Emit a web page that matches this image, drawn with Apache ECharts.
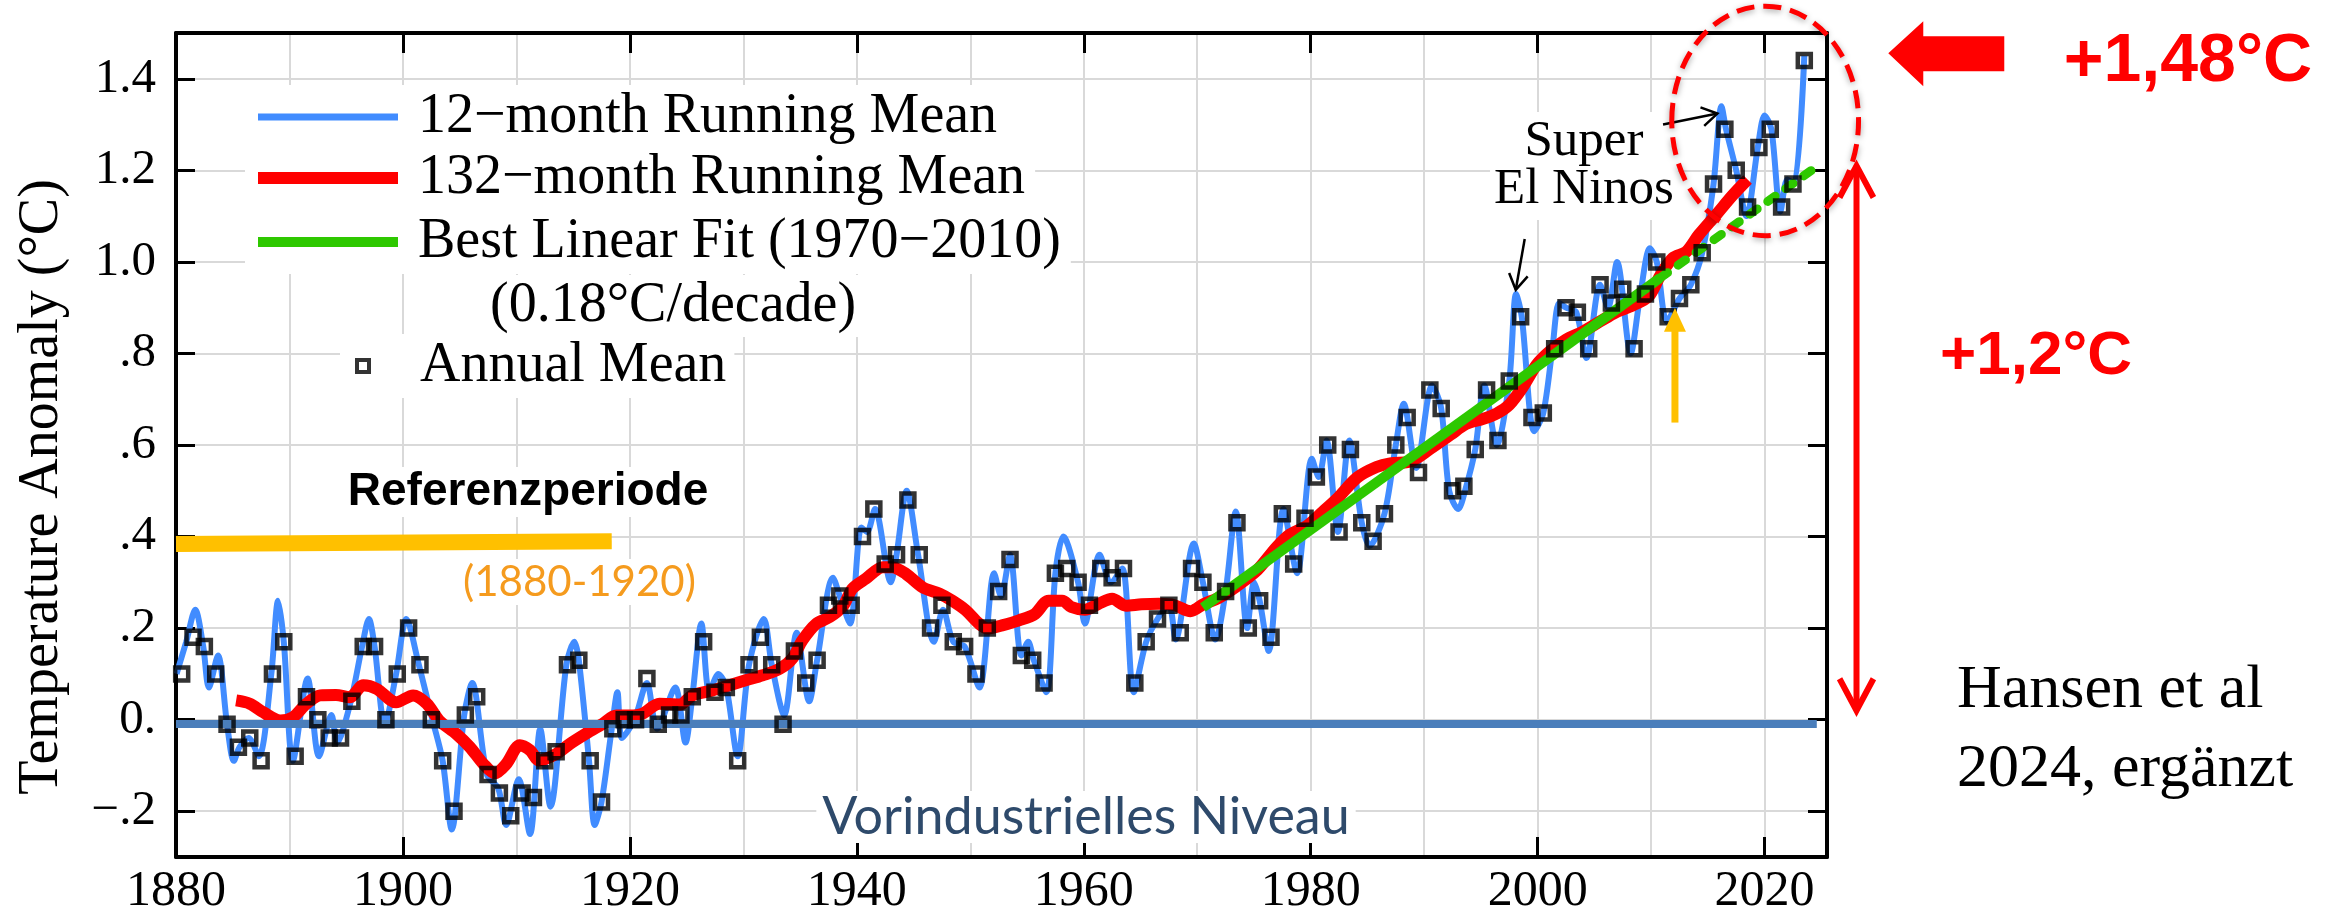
<!DOCTYPE html>
<html>
<head>
<meta charset="utf-8">
<script src="https://cdn.jsdelivr.net/npm/echarts@6/dist/echarts.min.js"></script>
<style>
html, body { margin: 0; padding: 0; background: #fff; }
#chart { width: 2339px; height: 917px; }
</style>
</head>
<body>
<div id="chart"></div>
<script>
// GISS global temperature anomaly (°C, relative to 1880-1920)

const firstYear = 1880;

// Annual means, 1880 ... 2023 (plotted at mid-year)
const annualMean = [
  0.10, 0.18, 0.16, 0.10, -0.01, -0.06, -0.04, -0.09, 0.10, 0.17,
  -0.08, 0.05, 0.00, -0.04, -0.04, 0.04, 0.16, 0.16, 0.00, 0.10,
  0.20, 0.12, 0.00, -0.09, -0.20, 0.01, 0.05, -0.12, -0.16, -0.21,
  -0.16, -0.17, -0.09, -0.07, 0.12, 0.13, -0.09, -0.18, -0.02, 0.00,
  0.00, 0.09, -0.01, 0.01, 0.01, 0.05, 0.17, 0.06, 0.07, -0.09,
  0.12, 0.18, 0.12, -0.01, 0.15, 0.08, 0.13, 0.25, 0.27, 0.25,
  0.40, 0.46, 0.34, 0.36, 0.48, 0.36, 0.20, 0.25, 0.17, 0.16,
  0.10, 0.20, 0.28, 0.35, 0.14, 0.13, 0.08, 0.32, 0.33, 0.30,
  0.25, 0.33, 0.31, 0.33, 0.08, 0.17, 0.22, 0.25, 0.19, 0.33,
  0.30, 0.19, 0.28, 0.43, 0.20, 0.26, 0.18, 0.45, 0.34, 0.44,
  0.53, 0.60, 0.41, 0.59, 0.43, 0.39, 0.45, 0.60, 0.66, 0.54,
  0.72, 0.68, 0.50, 0.51, 0.59, 0.72, 0.61, 0.74, 0.88, 0.66,
  0.67, 0.81, 0.90, 0.89, 0.81, 0.95, 0.91, 0.94, 0.81, 0.93,
  1.00, 0.88, 0.92, 0.95, 1.02, 1.17, 1.29, 1.20, 1.12, 1.25,
  1.29, 1.12, 1.17, 1.44
];

// 12-month running mean: [year, anomaly]
const runningMean12 = [
  [1880.05,0.10],[1880.9,0.17],[1881.7,0.24],[1882.4,0.16],[1882.9,0.07],[1883.7,0.14],[1884.5,-0.01],
  [1885.1,-0.09],[1885.6,-0.06],[1886.4,-0.04],[1887.3,-0.08],[1888.4,0.10],[1889.0,0.26],[1889.5,0.17],
  [1890.3,-0.09],[1891.6,0.09],[1892.6,-0.08],[1893.7,0.01],[1894.2,-0.05],[1895.4,0.04],[1896.4,0.16],
  [1897.0,0.22],[1897.5,0.16],[1898.4,-0.01],[1899.4,0.10],[1900.3,0.22],[1901.4,0.12],[1902.6,0.00],
  [1903.5,-0.09],[1904.3,-0.24],[1905.4,0.01],[1906.1,0.08],[1907.4,-0.12],[1908.4,-0.15],[1909.1,-0.23],
  [1910.2,-0.13],[1911.2,-0.25],[1912.1,-0.02],[1913.0,-0.19],[1914.4,0.12],[1915.1,0.17],[1915.5,0.13],
  [1916.4,-0.09],[1916.9,-0.23],[1917.5,-0.18],[1918.4,-0.02],[1918.9,0.06],[1919.3,-0.04],[1920.4,0.00],
  [1921.5,0.08],[1922.4,-0.02],[1924.0,0.07],[1924.9,-0.05],[1925.5,0.05],[1926.3,0.21],[1927.0,0.06],
  [1927.8,0.10],[1928.5,0.07],[1929.5,-0.08],[1930.5,0.12],[1931.8,0.22],[1932.5,0.12],[1933.6,0.01],
  [1934.7,0.19],[1935.8,0.04],[1936.5,0.13],[1937.9,0.31],[1938.5,0.27],[1939.4,0.21],[1940.4,0.42],
  [1940.9,0.41],[1941.6,0.46],[1943.0,0.30],[1943.5,0.36],[1944.4,0.50],[1945.4,0.36],[1946.8,0.17],
  [1947.6,0.24],[1948.5,0.17],[1949.5,0.16],[1950.8,0.07],[1952.1,0.32],[1952.7,0.27],[1953.5,0.36],
  [1954.5,0.14],[1955.1,0.17],[1955.6,0.13],[1956.7,0.06],[1957.5,0.32],[1958.2,0.40],[1959.5,0.30],
  [1960.1,0.21],[1961.4,0.36],[1962.4,0.30],[1963.4,0.33],[1964.4,0.06],[1965.5,0.17],[1966.5,0.22],
  [1967.5,0.25],[1968.1,0.175],[1969.7,0.385],[1970.5,0.30],[1971.6,0.175],[1972.5,0.28],[1973.4,0.455],
  [1974.4,0.20],[1975.0,0.30],[1975.5,0.26],[1976.3,0.15],[1977.6,0.46],[1978.8,0.32],[1980.1,0.57],
  [1980.7,0.53],[1981.4,0.61],[1982.4,0.41],[1983.4,0.61],[1984.5,0.43],[1985.2,0.38],[1986.5,0.45],
  [1987.5,0.60],[1988.2,0.69],[1989.3,0.55],[1990.7,0.73],[1991.5,0.68],[1992.2,0.50],[1993.0,0.46],
  [1993.6,0.50],[1994.5,0.59],[1995.3,0.73],[1996.4,0.60],[1997.5,0.74],[1998.1,0.93],[1998.6,0.88],
  [1999.7,0.63],[2000.5,0.67],[2001.3,0.81],[2001.9,0.91],[2002.5,0.90],[2003.4,0.89],[2004.3,0.79],
  [2005.5,0.95],[2006.2,0.90],[2007.0,1.00],[2008.2,0.80],[2009.0,0.92],[2009.9,1.03],[2010.5,1.00],
  [2011.4,0.87],[2012.5,0.92],[2013.5,0.95],[2014.5,1.02],[2015.5,1.17],[2016.2,1.34],[2016.6,1.29],
  [2017.5,1.20],[2018.4,1.10],[2019.4,1.25],[2020.0,1.32],[2020.6,1.29],[2021.4,1.11],[2022.0,1.18],
  [2022.6,1.17],[2023.5,1.45]
];

// 132-month running mean: [year, anomaly]
const runningMean132 = [
  [1885.3,0.042],[1886.5,0.035],[1887.7,0.016],[1889.2,-0.002],[1890.3,0.005],[1891.5,0.035],[1892.7,0.053],
  [1894.1,0.054],[1895.3,0.049],[1896.5,0.075],[1897.7,0.067],[1899.4,0.038],[1900.9,0.053],[1902.1,0.035],
  [1903.2,-0.002],[1904.7,-0.031],[1905.9,-0.06],[1907.1,-0.097],[1908.1,-0.117],[1909.1,-0.097],[1910.3,-0.056],
  [1911.2,-0.067],[1912.0,-0.089],[1913.5,-0.075],[1914.7,-0.053],[1916.1,-0.031],[1917.6,-0.009],[1918.8,0.009],
  [1920.0,0.009],[1921.1,0.013],[1922.6,0.035],[1924.4,0.033],[1925.5,0.053],[1927.3,0.064],[1928.5,0.073],
  [1930.2,0.086],[1931.7,0.097],[1933.2,0.111],[1934.3,0.133],[1935.2,0.173],[1936.4,0.209],[1937.6,0.224],
  [1938.8,0.249],[1939.6,0.286],[1940.8,0.308],[1942.3,0.333],[1943.1,0.333],[1944.3,0.319],[1945.8,0.289],
  [1947.3,0.275],[1948.4,0.26],[1949.6,0.239],[1950.8,0.209],[1951.6,0.199],[1952.8,0.206],[1954.3,0.217],
  [1955.7,0.231],[1956.9,0.26],[1958.1,0.26],[1958.9,0.246],[1960.1,0.24],[1961.3,0.253],[1962.5,0.264],
  [1963.7,0.249],[1965.1,0.252],[1966.6,0.253],[1968.0,0.25],[1969.4,0.237],[1970.6,0.253],[1971.8,0.265],
  [1973.5,0.292],[1975.3,0.327],[1977.0,0.377],[1978.2,0.405],[1979.7,0.424],[1981.1,0.455],[1982.3,0.482],
  [1984.1,0.529],[1985.8,0.552],[1987.0,0.56],[1988.8,0.564],[1990.5,0.591],[1992.3,0.622],[1993.7,0.646],
  [1995.2,0.657],[1996.4,0.669],[1997.5,0.688],[1998.7,0.727],[1999.9,0.775],[2001.1,0.805],[2002.5,0.83],
  [2004.0,0.848],[2005.5,0.87],[2006.9,0.89],[2008.4,0.905],[2009.8,0.925],[2010.8,0.97],[2011.9,1.008],
  [2013.1,1.022],[2014.2,1.059],[2015.7,1.102],[2017.2,1.146],[2018.5,1.18]
];

// Linear fit 1970-2010 (0.18°C/decade) and its dotted continuation
const linearFit = [[1970.5, 0.245], [2010.8, 0.965]];
const linearFitExtension = [[2010.8, 0.965], [2024.7, 1.21]];

// Reference lines
const preindustrialLevel = [[1880, -0.008], [2024.6, -0.008]];
const referencePeriodBar = [[1880, 0.384], [1918.4, 0.39]];

// Axis ticks
const xTickYears = [1880, 1900, 1920, 1940, 1960, 1980, 2000, 2020];
const yTickValues = [-0.2, 0, 0.2, 0.4, 0.6, 0.8, 1.0, 1.2, 1.4];
const yTickLabels = ['\u2212.2', '0.', '.2', '.4', '.6', '.8', '1.0', '1.2', '1.4'];

const SERIF = '"Liberation Serif", "Times New Roman", serif';
const SANS = '"Liberation Sans", Arial, sans-serif';
const SOFT = 'Lato, "Open Sans", sans-serif';

const BLUE = '#418cff';
const RED = '#ff0000';
const GREEN = '#2ec800';
const GRID_GRAY = '#d9d9d9';

const X_MIN = 1880, X_MAX = 2025.5, Y_MIN = -0.3, Y_MAX = 1.5;

const annualPoints = annualMean.map((v, i) => [firstYear + i + 0.5, v]);

const yLabel = v => {
  const i = yTickValues.findIndex(t => Math.abs(t - v) < 1e-6);
  return i < 0 ? '' : yTickLabels[i];
};

const frameLine = { onZero: false, lineStyle: { color: '#000', width: 4 } };
const legendText = { fontFamily: SERIF, fontSize: 56, color: '#000', lineHeight: 60, padding: [0, 0, 0, 15] };

const chart = echarts.init(document.getElementById('chart'));

const option = {
  animation: false,
  backgroundColor: '#fff',
  grid: { left: 176, right: 512, top: 33, bottom: 57 },
  xAxis: [
    {
      type: 'value', min: X_MIN, max: X_MAX, interval: 20, position: 'bottom',
      axisLine: frameLine,
      axisTick: { inside: true, length: 20, lineStyle: { color: '#000', width: 3 } },
      axisLabel: {
        margin: 10, fontFamily: SERIF, fontSize: 50, color: '#000',
        formatter: v => xTickYears.includes(v) ? String(v) : ''
      },
      splitLine: { show: false }
    },
    {
      type: 'value', min: X_MIN, max: X_MAX, interval: 20, position: 'top',
      axisLine: frameLine,
      axisTick: { inside: true, length: 20, lineStyle: { color: '#000', width: 3 } },
      axisLabel: { show: false },
      splitLine: { show: false }
    },
    {
      type: 'value', min: X_MIN, max: X_MAX, interval: 10, position: 'bottom',
      axisLine: { show: false, onZero: false },
      axisTick: { show: false },
      axisLabel: { show: false },
      splitLine: { show: true, lineStyle: { color: GRID_GRAY, width: 2 } }
    }
  ],
  yAxis: [
    {
      type: 'value', min: Y_MIN, max: Y_MAX, position: 'left',
      axisLine: frameLine,
      axisTick: { inside: true, length: 19, customValues: yTickValues, lineStyle: { color: '#000', width: 3 } },
      axisLabel: {
        customValues: yTickValues, formatter: yLabel,
        fontFamily: SERIF, fontSize: 49, color: '#000', margin: 20
      },
      splitLine: { show: true, lineStyle: { color: GRID_GRAY, width: 2 } },
      name: 'Temperature Anomaly (°C)',
      nameLocation: 'middle', nameGap: 106,
      nameTextStyle: { fontFamily: SERIF, fontSize: 56, color: '#000', padding: [0, 84, 0, 0] }
    },
    {
      type: 'value', min: Y_MIN, max: Y_MAX, position: 'right',
      axisLine: frameLine,
      axisTick: { inside: true, length: 19, customValues: yTickValues, lineStyle: { color: '#000', width: 3 } },
      axisLabel: { show: false },
      splitLine: { show: false }
    }
  ],
  legend: [
    {
      data: ['12\u2212month Running Mean'], left: 245, top: 85, padding: [2, 10, 2, 13],
      backgroundColor: '#fff', icon: 'rect', itemWidth: 140, itemHeight: 7,
      itemStyle: { borderWidth: 0 }, selectedMode: false, textStyle: legendText
    },
    {
      data: ['132\u2212month Running Mean'], left: 245, top: 146, padding: [2, 10, 2, 13],
      backgroundColor: '#fff', icon: 'rect', itemWidth: 140, itemHeight: 12,
      itemStyle: { borderWidth: 0 }, selectedMode: false, textStyle: legendText
    },
    {
      data: ['Best Linear Fit (1970\u22122010)'], left: 245, top: 210, padding: [2, 10, 2, 13],
      backgroundColor: '#fff', icon: 'rect', itemWidth: 140, itemHeight: 10,
      itemStyle: { borderWidth: 0 }, selectedMode: false, textStyle: legendText
    },
    {
      data: ['Annual Mean'], left: 340, top: 334, padding: [2, 8, 2, 15],
      backgroundColor: '#fff', icon: 'rect', itemWidth: 12, itemHeight: 12,
      itemStyle: { color: '#fff', borderColor: '#000', borderWidth: 4 },
      selectedMode: false, textStyle: Object.assign({}, legendText, { padding: [0, 0, 0, 46] })
    }
  ],
  series: [
    {
      name: '12\u2212month Running Mean', type: 'line', data: runningMean12,
      xAxisIndex: 0, yAxisIndex: 0, z: 2,
      symbol: 'none', smooth: 0.3,
      lineStyle: { color: BLUE, width: 6 }, itemStyle: { color: BLUE },
      emphasis: { disabled: true }
    },
    {
      name: '132\u2212month Running Mean', type: 'line', data: runningMean132,
      xAxisIndex: 0, yAxisIndex: 0, z: 3,
      symbol: 'none', smooth: 0.3,
      lineStyle: { color: RED, width: 12 }, itemStyle: { color: RED },
      emphasis: { disabled: true }
    },
    {
      name: 'Best Linear Fit (1970\u22122010)', type: 'line', data: linearFit,
      xAxisIndex: 0, yAxisIndex: 0, z: 4,
      symbol: 'none',
      lineStyle: { color: GREEN, width: 10 }, itemStyle: { color: GREEN },
      emphasis: { disabled: true }
    },
    {
      name: 'Best Linear Fit (1970\u22122010)', type: 'line', data: linearFitExtension,
      xAxisIndex: 0, yAxisIndex: 0, z: 4,
      symbol: 'none',
      lineStyle: { color: GREEN, width: 9, type: [9, 13], cap: 'round' }, itemStyle: { color: GREEN },
      emphasis: { disabled: true }
    },
    {
      // reference levels: pre-industrial baseline and the 1880-1920 reference period
      name: 'Referenzlinien', type: 'line', data: [],
      xAxisIndex: 0, yAxisIndex: 0, z: 5,
      markLine: {
        silent: true, symbol: ['none', 'none'], label: { show: false },
        emphasis: { disabled: true },
        data: [
          [
            { coord: preindustrialLevel[0], lineStyle: { color: '#4a7ebb', width: 8, type: 'solid', cap: 'butt' } },
            { coord: preindustrialLevel[1] }
          ],
          [
            { coord: referencePeriodBar[0], lineStyle: { color: '#ffc000', width: 16, type: 'solid', cap: 'butt' } },
            { coord: referencePeriodBar[1] }
          ]
        ]
      }
    },
    {
      name: 'Annual Mean', type: 'scatter', data: annualPoints,
      xAxisIndex: 0, yAxisIndex: 0, z: 6,
      symbol: 'rect', symbolSize: 13,
      itemStyle: { color: 'rgba(0,0,0,0)', borderColor: '#000', borderWidth: 4.5 },
      emphasis: { disabled: true }
    }
  ]
};

chart.setOption(option);

// ---- annotations, placed through the chart's own axes ----
const P = (x, y) => chart.convertToPixel({ xAxisIndex: 0, yAxisIndex: 0 }, [x, y]);

function chevron(tip, from, len, spread) {
  const a = Math.atan2(from[1] - tip[1], from[0] - tip[0]);
  return [
    [tip[0] + len * Math.cos(a + spread), tip[1] + len * Math.sin(a + spread)],
    [tip[0], tip[1]],
    [tip[0] + len * Math.cos(a - spread), tip[1] + len * Math.sin(a - spread)]
  ];
}

function arrow(from, to, color, width, headLen, spread) {
  return [
    { type: 'polyline', z: 100, shape: { points: [from, to] }, style: { stroke: color, lineWidth: width, fill: null } },
    { type: 'polyline', z: 100, shape: { points: chevron(to, from, headLen, spread) },
      style: { stroke: color, lineWidth: width, fill: null, lineJoin: 'miter' } }
  ];
}

function label(text, x, y, font, color, align, extra) {
  return {
    type: 'text', z: 50, x: x, y: y,
    style: Object.assign({ text: text, font: font, fill: color, align: align || 'center', verticalAlign: 'middle' }, extra || {})
  };
}

const g = [];

// El Niño arrows
g.push(...arrow(P(1998.86, 1.05), P(1998.07, 0.939), '#000', 2.5, 18, 0.55));
g.push(...arrow(P(2011.05, 1.300), P(2015.84, 1.324), '#000', 2.5, 18, 0.55));

// gold arrow at 2012
const gb = P(2012.1, 0.649), gh = P(2012.1, 0.852), gt = P(2012.1, 0.899);
g.push({ type: 'rect', z: 100, shape: { x: gb[0] - 3.5, y: gh[1], width: 7, height: gb[1] - gh[1] }, style: { fill: '#ffc000' } });
g.push({ type: 'polygon', z: 100, shape: { points: [[gt[0], gt[1]], [gh[0] + 11, gh[1] + 2], [gh[0] - 11, gh[1] + 2]] }, style: { fill: '#ffc000' } });

// dashed ellipse around the recent record years
const ec = P(2020.05, 1.308), ex = P(2028.28, 1.308), ey = P(2020.05, 1.5587);
g.push({
  type: 'ellipse', z: 100,
  shape: { cx: ec[0], cy: ec[1], rx: ex[0] - ec[0], ry: ec[1] - ey[1] },
  style: { fill: null, stroke: RED, lineWidth: 5, lineDash: [18, 9], shadowBlur: 6, shadowColor: 'rgba(0,0,0,0.35)', shadowOffsetY: 2 }
});

// big arrow pointing to the latest value
const t = P(2030.9, 1.456);
g.push({
  type: 'polygon', z: 100,
  shape: { points: [
    [t[0], t[1]], [t[0] + 35, t[1] - 32], [t[0] + 35, t[1] - 17], [t[0] + 116, t[1] - 17],
    [t[0] + 116, t[1] + 18], [t[0] + 35, t[1] + 18], [t[0] + 35, t[1] + 33]
  ] },
  style: { fill: RED }
});

// double arrow 0 -> 1.2
const dTop = P(2028.1, 1.21), dBot = P(2028.1, 0.02);
g.push({ type: 'polyline', z: 100, shape: { points: [dTop, dBot] }, style: { stroke: RED, lineWidth: 6, fill: null } });
g.push({ type: 'polyline', z: 100, shape: { points: chevron(dTop, dBot, 36, 0.49) }, style: { stroke: RED, lineWidth: 6, fill: null } });
g.push({ type: 'polyline', z: 100, shape: { points: chevron(dBot, dTop, 36, 0.49) }, style: { stroke: RED, lineWidth: 6, fill: null } });

// text
g.push(label('(0.18°C/decade)', 490, 306, '56px ' + SERIF, '#000', 'left', { backgroundColor: '#fff', padding: [3, 8, 3, 0] }));
g.push(label('Super\nEl Ninos', 1584, 166, '51px ' + SERIF, '#000', 'center', { lineHeight: 48, backgroundColor: '#fff', padding: [6, 4] }));
g.push(label('Referenzperiode', 528, 492, 'bold 46px ' + SANS, '#000', 'center', { backgroundColor: '#fff', padding: [2, 6] }));
g.push(label('(1880-1920)', 459, 582, '42px ' + SOFT, '#f59b1e', 'left', { backgroundColor: '#fff', padding: [2, 4] }));
g.push(label('Vorindustrielles Niveau', 1086, 817, '52px ' + SOFT, '#2e4a6b', 'center', { backgroundColor: '#fff', padding: [0, 6] }));
g.push(label('+1,48°C', 2188, 62, 'bold 68px ' + SANS, RED, 'center'));
g.push(label('+1,2°C', 2036, 357, 'bold 62px ' + SANS, RED, 'center'));
g.push(label('Hansen et al\n2024, ergänzt', 1957, 730, '62px ' + SERIF, '#000', 'left', { lineHeight: 79 }));

chart.setOption({ graphic: { elements: g } });
</script>
</body>
</html>
